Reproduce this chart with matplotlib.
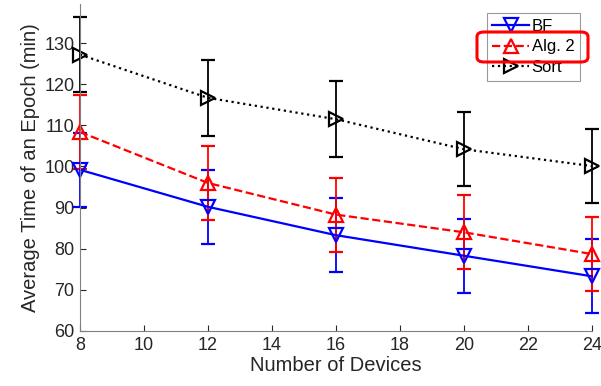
import matplotlib
matplotlib.use("Agg")
import matplotlib.pyplot as plt
from matplotlib.lines import Line2D
from matplotlib.patches import FancyBboxPatch

plt.rcParams["font.family"] = ["Liberation Sans", "DejaVu Sans"]

devices = [8, 12, 16, 20, 24]
bf = [99.2, 90.2, 83.3, 78.3, 73.3]
alg2 = [108.4, 96.0, 88.3, 84.0, 78.7]
sort_ = [127.2, 116.7, 111.5, 104.2, 100.1]
bf_err = [9.0, 9.0, 9.0, 9.0, 9.0]
alg2_err = [9.0, 9.0, 9.0, 9.0, 9.0]
sort_err = [9.2, 9.2, 9.2, 9.0, 9.0]

x_ticks = [8, 10, 12, 14, 16, 18, 20, 22, 24]
y_ticks = [60, 70, 80, 90, 100, 110, 120, 130]

fig = plt.figure(figsize=(6.01, 3.86), dpi=100)
ax = fig.add_axes([0.133, 0.1425, 0.852, 0.847])

series = [
    (bf, bf_err, "BF", "#0000ff", "-", "v"),
    (alg2, alg2_err, "Alg. 2", "#ff0000", "--", "^"),
    (sort_, sort_err, "Sort", "black", ":", ">"),
]
handles = []
for vals, err, lab, col, ls, mk in series:
    cont = ax.errorbar(devices, vals, yerr=err, color=col, linestyle=ls, linewidth=1.6,
                       marker=mk, markersize=10, markerfacecolor="none",
                       markeredgewidth=1.6, ecolor=col, elinewidth=1.3,
                       capsize=5, capthick=1.3)
    cont[0].set_clip_on(False)
    for c in cont[1]:
        c.set_clip_on(False)
    for b in cont[2]:
        b.set_clip_on(False)
    handles.append(Line2D([], [], color=col, linestyle=ls, linewidth=1.6, marker=mk,
                          markersize=10, markerfacecolor="none", markeredgewidth=1.6,
                          label=lab))

ax.set_xlim(8, 24)
ax.set_ylim(60, 139.5)
ax.set_xticks(x_ticks)
ax.set_yticks(y_ticks)
ax.tick_params(direction="in", labelsize=13, colors="#262626", length=4, pad=4)
for s in ["top", "right"]:
    ax.spines[s].set_visible(False)
for s in ["left", "bottom"]:
    ax.spines[s].set_color("#808080")
ax.set_xlabel("Number of Devices", fontsize=14.5, color="#262626", labelpad=2)
ax.set_ylabel("Average Time of an Epoch (min)", fontsize=14.5, color="#262626", labelpad=3)

leg = ax.legend(handles=handles, loc="upper right", bbox_to_anchor=(0.977, 0.972),
                fontsize=12, frameon=True, fancybox=False, handlelength=2.2,
                handletextpad=0.15, borderpad=0.35, labelspacing=0.32,
                borderaxespad=0.0)
leg.get_frame().set_edgecolor("#808080")
leg.get_frame().set_linewidth(0.8)

# red highlight box around "Alg. 2"
box = FancyBboxPatch((477 / 601, 1 - 62 / 386), 111 / 601, 30 / 386,
                     boxstyle="round,pad=0,rounding_size=0.012",
                     transform=fig.transFigure, fill=False,
                     edgecolor="#ff0000", linewidth=2.2, zorder=10)
fig.patches.append(box)

fig.savefig("out.png", dpi=100)
